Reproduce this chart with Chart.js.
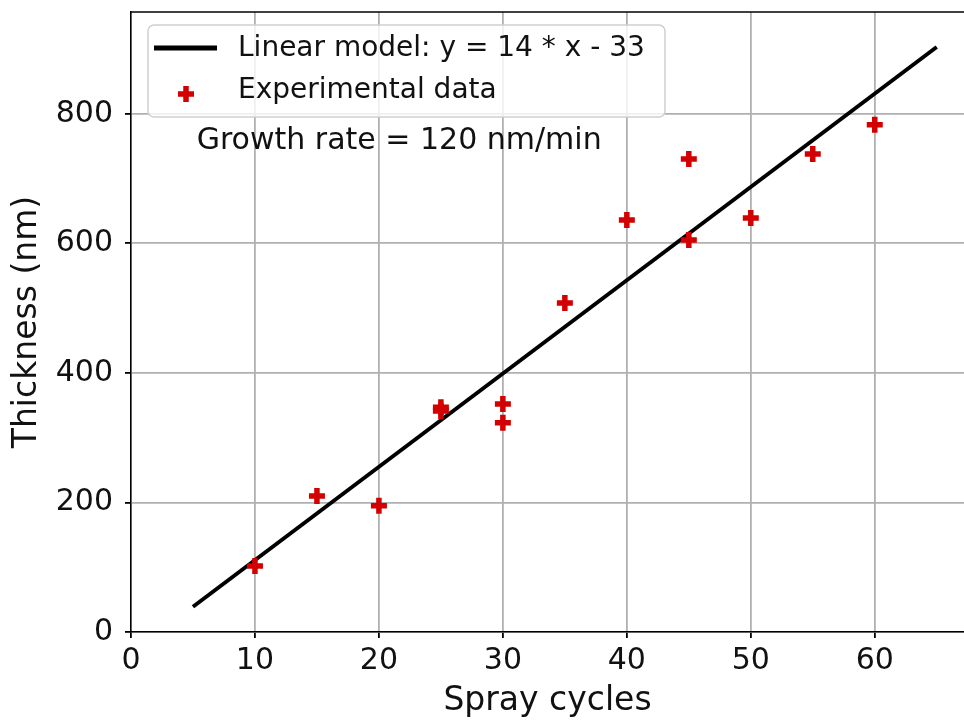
<!DOCTYPE html>
<html>
<head>
<meta charset="utf-8">
<script src="https://cdn.jsdelivr.net/npm/chart.js@4.4.0/dist/chart.umd.min.js"></script>
<style>
  body { margin: 0; background: #fff; overflow: hidden; }
  canvas { display: block; }
</style>
</head>
<body>
<canvas id="thicknessChart" width="964" height="722"></canvas>
<script>
// Data
const sprayCycles = [10, 15, 20, 25, 25, 30, 30, 35, 40, 45, 45, 50, 55, 60];
const thickness = [102, 210, 195, 347, 341, 352, 323, 508, 636, 730, 605, 639, 738, 783];
// linear fit end points
const modelX = [5, 65];
const modelY = [39, 903];
const xTicks = [0, 10, 20, 30, 40, 50, 60];
const yTicks = [0, 200, 400, 600, 800];

const FONT = 'DejaVu Sans';

// Top spine, legend box and text annotation
const decorations = {
    id: 'decorations',
    afterDraw(chart) {
        const c = chart.ctx;
        const area = chart.chartArea;
        const xs = chart.scales.x, ys = chart.scales.y;
        c.save();
        // top spine
        c.strokeStyle = '#000';
        c.lineWidth = 1.5;
        c.beginPath();
        c.moveTo(area.left, area.top);
        c.lineTo(area.right, area.top);
        c.stroke();

        // legend
        c.fillStyle = 'rgba(255,255,255,0.8)';
        c.strokeStyle = '#d0d0d0';
        c.lineWidth = 1.5;
        c.beginPath();
        c.roundRect(148, 25, 517, 92, 6);
        c.fill();
        c.stroke();

        const ds = chart.data.datasets;
        c.strokeStyle = '#000';
        c.lineWidth = 5;
        c.beginPath();
        c.moveTo(154, 48);
        c.lineTo(217, 48);
        c.stroke();

        c.strokeStyle = ds[1].borderColor;
        c.lineWidth = 5.5;
        c.beginPath();
        c.moveTo(186, 86); c.lineTo(186, 102);
        c.moveTo(178, 94); c.lineTo(194, 94);
        c.stroke();

        c.fillStyle = '#111';
        c.font = '28px ' + FONT;
        c.textAlign = 'left';
        c.textBaseline = 'middle';
        c.fillText(ds[0].label, 238, 49);
        c.fillText(ds[1].label, 238, 91);

        // annotation
        c.font = '30px ' + FONT;
        c.fillText('Growth rate = 120 nm/min', xs.getPixelForValue(5.3), ys.getPixelForValue(757));
        c.restore();
    }
};

const ctx = document.getElementById('thicknessChart').getContext('2d');
const thicknessChart = new Chart(ctx, {
    data: {
        datasets: [
            {
                type: 'line',
                label: 'Linear model: y = 14 * x - 33',
                data: modelX.map((x, i) => ({ x: x, y: modelY[i] })),
                borderColor: '#000',
                borderWidth: 4,
                pointRadius: 0,
                order: 2
            },
            {
                type: 'scatter',
                label: 'Experimental data',
                data: sprayCycles.map((x, i) => ({ x: x, y: thickness[i] })),
                pointStyle: 'cross',
                pointRadius: 8,
                borderWidth: 5.5,
                borderColor: 'rgb(210,0,0)',
                backgroundColor: 'rgb(210,0,0)',
                order: 1
            }
        ]
    },
    options: {
        responsive: false,
        animation: false,
        layout: { autoPadding: false, padding: { top: 12, right: 0, left: 0, bottom: 0 } },
        plugins: {
            legend: { display: false },
            tooltip: { enabled: false }
        },
        scales: {
            x: {
                type: 'linear',
                min: 0,
                max: 67.2,
                afterBuildTicks: (s) => { s.ticks = xTicks.map(v => ({ value: v })); },
                afterFit: (s) => { s.height = 90; s.paddingRight = 0; s.paddingLeft = 0; },
                ticks: {
                    color: '#111',
                    font: { family: FONT, size: 30 },
                    padding: 5
                },
                grid: { color: '#b0b0b0', lineWidth: 1.8, tickColor: '#000', tickLength: 6 },
                border: { color: '#000', width: 1.5 },
                title: {
                    display: true,
                    text: 'Spray cycles',
                    color: '#111',
                    font: { family: FONT, size: 33 },
                    padding: { top: 1, bottom: 1 }
                }
            },
            y: {
                type: 'linear',
                min: 0,
                max: 957,
                afterBuildTicks: (s) => { s.ticks = yTicks.map(v => ({ value: v })); },
                afterFit: (s) => { s.width = 131; s.paddingTop = 0; s.paddingBottom = 0; },
                ticks: {
                    color: '#111',
                    font: { family: FONT, size: 30 },
                    padding: 12
                },
                grid: { color: '#b0b0b0', lineWidth: 1.8, tickColor: '#000', tickLength: 6 },
                border: { color: '#000', width: 1.5 },
                title: {
                    display: true,
                    text: 'Thickness (nm)',
                    color: '#111',
                    font: { family: FONT, size: 33 },
                    padding: { top: 8, bottom: 8 }
                }
            }
        }
    },
    plugins: [decorations]
});
</script>
</body>
</html>
